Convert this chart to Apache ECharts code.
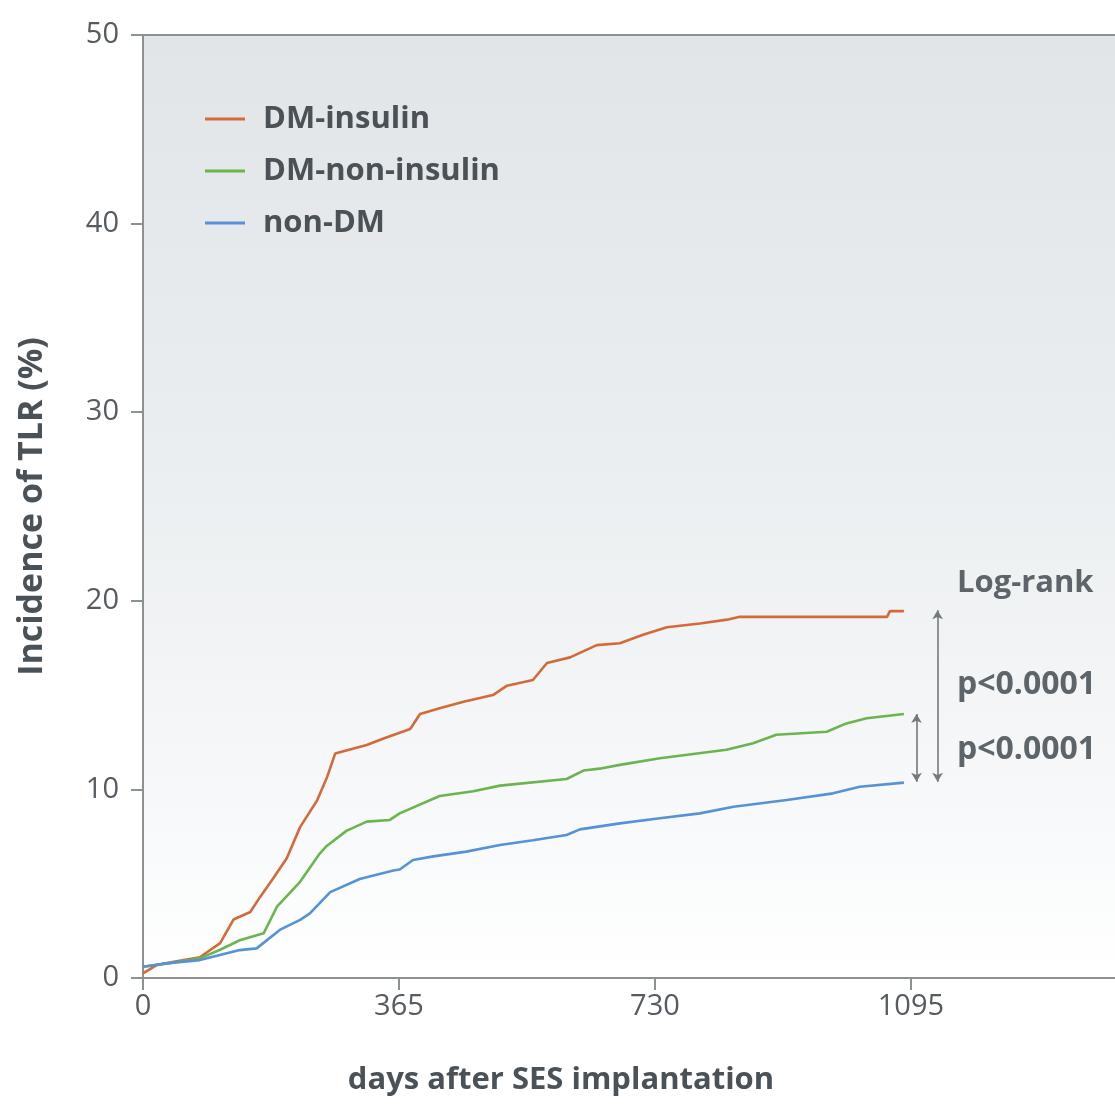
<!DOCTYPE html>
<html>
<head>
<meta charset="utf-8">
<script src="https://cdn.jsdelivr.net/npm/echarts@6/dist/echarts.min.js"></script>
<style>
html,body{margin:0;padding:0;background:#ffffff;}
#chart{width:1115px;height:1104px;}
</style>
</head>
<body>
<div id="chart"></div>
<script>
// ---- data ----
var seriesNames = ['DM-insulin', 'DM-non-insulin', 'non-DM'];
var xTicks = [0, 365, 730, 1095];
var yTicks = [0, 10, 20, 30, 40, 50];

var dmInsulin = [[0,0.25],[20,0.7],[50,0.9],[81,1.1],[110,1.85],[129,3.1],[153,3.5],[167,4.3],[186,5.3],[205,6.35],[224,8.0],[236,8.7],[248,9.4],[262,10.6],[274,11.9],[319,12.35],[343,12.7],[381,13.2],[395,14.0],[423,14.3],[457,14.65],[499,15.0],[519,15.5],[556,15.8],[576,16.7],[609,17.0],[647,17.65],[680,17.75],[713,18.2],[747,18.6],[794,18.8],[833,19.0],[851,19.15],[1061,19.15],[1065,19.45],[1085,19.45]];

var dmNonInsulin = [[0,0.6],[40,0.8],[81,1.04],[110,1.5],[138,2.0],[172,2.37],[191,3.78],[224,5.1],[252,6.6],[262,7.0],[290,7.8],[319,8.29],[352,8.38],[366,8.73],[423,9.65],[471,9.9],[509,10.2],[604,10.55],[628,11.0],[651,11.1],[680,11.3],[737,11.65],[832,12.1],[870,12.45],[903,12.9],[975,13.06],[1003,13.5],[1032,13.77],[1085,14.0]];

var nonDM = [[0,0.6],[40,0.8],[81,0.95],[138,1.48],[162,1.57],[195,2.55],[224,3.08],[238,3.43],[267,4.55],[309,5.25],[357,5.7],[366,5.75],[385,6.26],[414,6.45],[461,6.7],[509,7.05],[556,7.3],[604,7.58],[623,7.88],[680,8.2],[737,8.47],[794,8.73],[842,9.08],[918,9.44],[984,9.79],[1022,10.14],[1085,10.36]];

// log-rank comparison brackets: [x day, y from, y to]
var bracketLong = [1133, 19.5, 10.4];
var bracketShort = [1103, 14.0, 10.4];
var annotTexts = ['Log-rank', 'p<0.0001', 'p<0.0001'];
var xAxisTitle = 'days after SES implantation';
var yAxisTitle = 'Incidence of TLR (%)';

// ---- chart ----
var colors = ['#d46a3a', '#6cb44e', '#5592d6'];
var axisColor = '#8c9195';
var labelColor = '#555b60';
var darkText = '#4a5257';
var FONT = '"Open Sans", "Noto Sans", sans-serif';

var chart = echarts.init(document.getElementById('chart'), null, {renderer: 'canvas'});

function bracket(b) {
  return [{coord: [b[0], b[1]]}, {coord: [b[0], b[2]]}];
}

var option = {
  animation: false,
  backgroundColor: '#ffffff',
  color: colors,
  grid: {
    left: 143, right: 0, top: 35, bottom: 126,
    show: true,
    borderWidth: 0,
    borderColor: 'transparent',
    backgroundColor: new echarts.graphic.LinearGradient(0, 0, 0, 1, [
      {offset: 0, color: '#e1e5e8'},
      {offset: 0.45, color: '#ebeef0'},
      {offset: 0.8, color: '#f6f8f9'},
      {offset: 1, color: '#ffffff'}
    ])
  },
  legend: {
    data: seriesNames,
    orient: 'vertical',
    left: 205,
    top: 102,
    padding: 0,
    icon: 'rect',
    itemWidth: 40,
    itemHeight: 3,
    itemGap: 18,
    textStyle: {
      fontFamily: FONT, fontSize: 31, fontWeight: 'bold', color: darkText,
      padding: [0, 0, 0, 13], lineHeight: 34
    }
  },
  xAxis: [{
    type: 'value',
    min: 0, max: 1386, interval: 365,
    axisLine: {show: true, lineStyle: {color: axisColor, width: 2}},
    axisTick: {show: true, length: 12, customValues: xTicks, lineStyle: {color: axisColor, width: 2}},
    axisLabel: {
      fontFamily: FONT, fontSize: 29, color: labelColor, margin: 14,
      customValues: xTicks,
      formatter: function (v) { return xTicks.indexOf(v) >= 0 ? String(v) : ''; }
    },
    splitLine: {show: false}
  }, {
    type: 'value', position: 'top', min: 0, max: 1386,
    axisLine: {show: true, onZero: false, lineStyle: {color: axisColor, width: 2}},
    axisTick: {show: false}, axisLabel: {show: false}, splitLine: {show: false}
  }],
  yAxis: {
    type: 'value',
    min: 0, max: 50, interval: 10,
    name: yAxisTitle,
    nameLocation: 'middle',
    nameRotate: 90,
    nameGap: 94,
    nameTextStyle: {fontFamily: FONT, fontSize: 34, fontWeight: 'bold', color: darkText},
    axisLine: {show: true, lineStyle: {color: axisColor, width: 2}},
    axisTick: {show: true, length: 12, lineStyle: {color: axisColor, width: 2}},
    axisLabel: {
      fontFamily: FONT, fontSize: 29, color: labelColor, margin: 24,
      formatter: function (v) { return yTicks.indexOf(v) >= 0 ? String(v) : ''; }
    },
    splitLine: {show: false}
  },
  series: [{
    name: seriesNames[0], type: 'line', data: dmInsulin, symbol: 'none',
    lineStyle: {width: 2.6, color: colors[0]}, z: 3
  }, {
    name: seriesNames[1], type: 'line', data: dmNonInsulin, symbol: 'none',
    lineStyle: {width: 2.6, color: colors[1]}, z: 3
  }, {
    name: seriesNames[2], type: 'line', data: nonDM, symbol: 'none',
    lineStyle: {width: 2.6, color: colors[2]}, z: 3,
    markLine: {
      silent: true,
      symbol: ['arrow', 'arrow'],
      symbolSize: [8, 9],
      label: {show: false},
      lineStyle: {color: '#75797c', width: 1.6, type: 'solid'},
      data: [bracket(bracketLong), bracket(bracketShort)]
    }
  }],
  graphic: [{
    type: 'text', x: 957, y: 583,
    style: {text: annotTexts[0], font: 'bold 31px ' + FONT, fill: '#5e656a', textVerticalAlign: 'middle', verticalAlign: 'middle'}
  }, {
    type: 'text', x: 957, y: 685,
    style: {text: annotTexts[1], font: 'bold 32px ' + FONT, fill: '#5e656a', textVerticalAlign: 'middle', verticalAlign: 'middle'}
  }, {
    type: 'text', x: 957, y: 750,
    style: {text: annotTexts[2], font: 'bold 32px ' + FONT, fill: '#5e656a', textVerticalAlign: 'middle', verticalAlign: 'middle'}
  }, {
    type: 'text', x: 561, y: 1080,
    style: {text: xAxisTitle, font: 'bold 31px ' + FONT, fill: darkText, align: 'center', textAlign: 'center', verticalAlign: 'middle', textVerticalAlign: 'middle'}
  }]
};
chart.setOption(option);
</script>
</body>
</html>
